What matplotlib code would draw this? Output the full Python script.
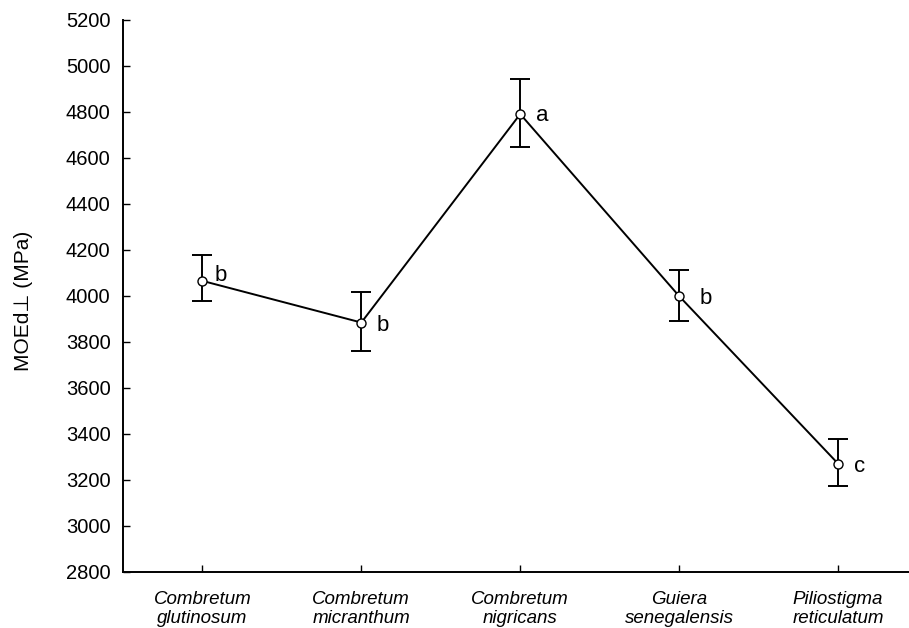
import numpy as np
import matplotlib.pyplot as plt

# species (x categories) and measured MOEd values
species = ["Combretum\nglutinosum", "Combretum\nmicranthum", "Combretum\nnigricans",
           "Guiera\nsenegalensis", "Piliostigma\nreticulatum"]
means = [4065, 3884, 4790, 3999, 3271]
upper = [4177, 4015, 4942, 4112, 3380]
lower = [3977, 3760, 4645, 3889, 3173]
groups = ["b", "b", "a", "b", "c"]

plt.rcParams['font.family'] = ['Liberation Sans', 'DejaVu Sans']

fig = plt.figure(figsize=(9.09, 6.28), dpi=100)
ax = fig.add_axes([0.1353, 0.0892, 0.874, 0.8794])

x = np.arange(1, len(species) + 1)
m = np.array(means)
yerr = [m - np.array(lower), np.array(upper) - m]

ax.errorbar(x, m, yerr=yerr, fmt='none', ecolor='black', elinewidth=1.4,
            capsize=7, capthick=1.4, zorder=2)
ax.plot(x, m, color='black', lw=1.4, zorder=3)
ax.plot(x, m, 'o', ms=6.5, mfc='white', mec='black', mew=1.0, zorder=4)

# group letters next to each point
dx = [12, 15, 16, 20, 16]
dy = [0, -8, -7, -8, -8]
for xi, yi, g, ox, oy in zip(x, m, groups, dx, dy):
    ax.annotate(g, (xi, yi), xytext=(ox * 0.72, oy * 0.72), textcoords='offset points',
                ha='left', va='baseline', fontsize=16)

ax.set_xlim(0.5, 5.5)
ax.set_ylim(2800, 5200)
ax.set_yticks(np.arange(2800, 5201, 200))
ax.set_xticks(x)
ax.set_xticklabels(species, style='italic', fontsize=13.5, linespacing=1.1)
ax.tick_params(axis='y', direction='in', length=5, width=1, labelsize=14.5, pad=9)
ax.tick_params(axis='x', direction='in', length=5, width=1, pad=14)

for s in ['top', 'right']:
    ax.spines[s].set_visible(False)
for s in ['left', 'bottom']:
    ax.spines[s].set_linewidth(1.4)

ax.set_ylabel("MOEd\u22a5 (MPa)", fontsize=15)
ax.yaxis.set_label_coords(-0.113, 0.49)

fig.savefig("out.png", dpi=100)
